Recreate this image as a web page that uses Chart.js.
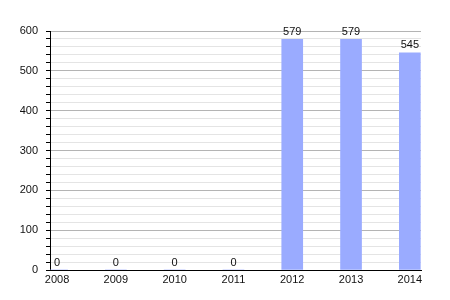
<!DOCTYPE html>
<html>
<head>
<meta charset="utf-8">
<script src="https://cdn.jsdelivr.net/npm/chart.js@4"></script>
<style>
  html, body { margin: 0; padding: 0; background: #fff; }
  #wrap { width: 450px; height: 300px; }
</style>
</head>
<body>
<div id="wrap"><canvas id="chart"></canvas></div>
<script>
const years = [2008, 2009, 2010, 2011, 2012, 2013, 2014];
const counts = [0, 0, 0, 0, 579, 579, 545];
const yTicks = [0, 100, 200, 300, 400, 500, 600];

// draw the value above each bar
const valueLabels = {
  id: "valueLabels",
  afterDatasetsDraw(chart) {
    const ctx = chart.ctx;
    const meta = chart.getDatasetMeta(0);
    ctx.save();
    ctx.font = "11px 'Liberation Sans', Arial, sans-serif";
    ctx.fillStyle = "#111";
    ctx.textAlign = "center";
    ctx.textBaseline = "bottom";
    meta.data.forEach((bar, i) => {
      ctx.fillText(String(counts[i]), bar.x, bar.y - 2);
    });
    ctx.restore();
  },
};

document.addEventListener("DOMContentLoaded", () => {
  const ctx = document.getElementById("chart").getContext("2d");
  new Chart(ctx, {
    type: "bar",
    data: {
      datasets: [
        {
          data: years.map((y, i) => ({ x: y, y: counts[i] })),
          backgroundColor: "#9aabff",
          barThickness: 21,
        },
      ],
    },
    options: {
      responsive: true,
      maintainAspectRatio: false,
      animation: false,
      layout: { padding: { top: 31, right: 29, left: 0, bottom: 0 } },
      plugins: {
        legend: { display: false },
        tooltip: { enabled: false },
      },
      scales: {
        x: {
          type: "linear",
          offset: false,
          min: 2007.88,
          max: 2014.19,
          afterBuildTicks: (scale) => {
            scale.ticks = years.map((v) => ({ value: v }));
          },
          afterFit: (scale) => {
            scale.height = 30;
          },
          grid: { display: false, drawTicks: false, offset: false },
          border: { display: true, color: "#000", width: 1 },
          ticks: {
            padding: 3,
            color: "#111",
            font: { family: "'Liberation Sans', Arial, sans-serif", size: 11 },
            callback: (v) => String(v),
            maxRotation: 0,
            autoSkip: false,
          },
        },
        y: {
          min: 0,
          max: 600,
          afterBuildTicks: (scale) => {
            const t = [];
            for (let v = 0; v <= 600; v += 20) t.push({ value: v });
            scale.ticks = t;
          },
          afterFit: (scale) => {
            scale.width = 50;
          },
          grid: {
            color: (c) => (c.tick && c.tick.value % 100 === 0 ? "#b4b4b4" : "#e4e4e4"),
            tickColor: "#000",
            tickLength: 4,
          },
          border: { display: true, color: "#000", width: 1 },
          ticks: {
            padding: 8,
            color: "#111",
            autoSkip: false,
            font: { family: "'Liberation Sans', Arial, sans-serif", size: 11 },
            callback: (v) => (yTicks.includes(v) ? String(v) : ""),
          },
        },
      },
    },
    plugins: [valueLabels],
  });
});
</script>
</body>
</html>
